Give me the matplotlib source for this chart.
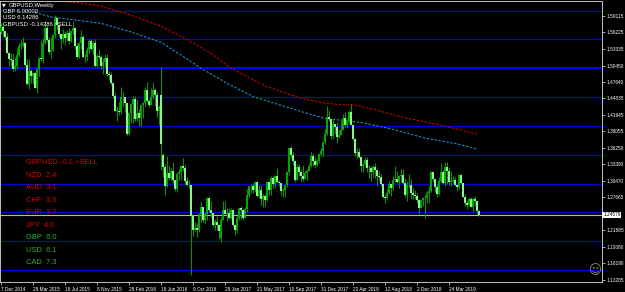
import matplotlib
matplotlib.use("Agg")
import matplotlib.pyplot as plt
import matplotlib.transforms as mtransforms

plt.rcParams['font.family'] = ['Liberation Sans', 'DejaVu Sans']

# ---------------- data (weekly GBPUSD, week index 0 = 7 Dec 2014) ----------------
week_open = [
 1.5630,1.5715,1.5640,1.5540,1.5270,1.5160,1.5150,1.4995,1.5040,1.5235,
 1.5390,1.5395,1.5435,1.5050,1.4725,1.4945,1.4860,1.4915,1.4655,1.4980,
 1.5180,1.5165,1.5440,1.5705,1.5490,1.5285,1.5310,1.5575,1.5880,1.5745,
 1.5595,1.5505,1.5595,1.5525,1.5615,1.5470,1.5645,1.5700,1.5385,1.5195,
 1.5435,1.5535,1.5195,1.5190,1.5310,1.5465,1.5330,1.5430,1.5045,1.5215,
 1.5190,1.5035,1.5115,1.5180,1.4895,1.4885,1.4740,1.4525,1.4265,1.4265,
 1.4245,1.4500,1.4500,1.4400,1.3860,1.4225,1.4385,1.4470,1.4125,1.4225,
 1.4145,1.4355,1.4400,1.4615,1.4440,1.4365,1.4495,1.4620,1.4530,1.4255,
 1.4540,1.3500,1.3280,1.2950,1.3180,1.3105,1.3225,1.3065,1.2910,1.3160,
 1.3200,1.3305,1.3265,1.3050,1.2970,1.2975,1.2430,1.2190,1.2230,1.2190,
 1.2480,1.2590,1.2375,1.2475,1.2745,1.2550,1.2485,1.2285,1.2340,1.2280,
 1.2060,1.2370,1.2550,1.2475,1.2495,1.2410,1.2545,1.2290,1.2190,1.2400,
 1.2575,1.2545,1.2410,1.2560,1.2810,1.2950,1.2965,1.2885,1.3035,1.2790,
 1.2890,1.2740,1.2780,1.2715,1.3025,1.2885,1.3100,1.2995,1.3135,1.3035,
 1.3010,1.2875,1.2890,1.2975,1.3200,1.3615,1.3495,1.3400,1.3065,1.3285,
 1.3195,1.3135,1.3080,1.3190,1.3225,1.3310,1.3475,1.3385,1.3315,1.3395,
 1.3510,1.3565,1.3720,1.3860,1.4150,1.4120,1.3820,1.4025,1.3975,1.3810,
 1.3850,1.3930,1.4140,1.4015,1.4090,1.4245,1.4020,1.3770,1.3530,1.3545,
 1.3465,1.3305,1.3345,1.3415,1.3265,1.3275,1.3205,1.3280,1.3235,1.3140,
 1.3110,1.2995,1.2765,1.2745,1.2840,1.2995,1.2925,1.3070,1.3075,1.3030,
 1.3130,1.3155,1.3010,1.2805,1.2980,1.2975,1.2830,1.2800,1.2785,1.2720,
 1.2585,1.2715,1.2750,1.2745,1.2840,1.2880,1.3195,1.3075,1.2945,1.2820,
 1.3045,1.3195,1.3005,1.3285,1.3210,1.3030,1.3045,1.3070,1.2970,1.2940,
 1.3150,1.3005,1.2770,1.2660,1.2625,1.2735,1.2595,1.2740,1.2700,1.2525]
week_high = [
 1.5785,1.5785,1.5645,1.5620,1.5290,1.5270,1.5270,1.5200,1.5350,1.5435,
 1.5485,1.5550,1.5450,1.5165,1.5165,1.4990,1.4925,1.4930,1.5000,1.5200,
 1.5495,1.5525,1.5815,1.5745,1.5535,1.5550,1.5600,1.5930,1.5890,1.5760,
 1.5600,1.5675,1.5645,1.5670,1.5690,1.5670,1.5820,1.5720,1.5420,1.5460,
 1.5660,1.5575,1.5240,1.5375,1.5510,1.5510,1.5470,1.5500,1.5245,1.5330,
 1.5230,1.5175,1.5240,1.5240,1.4955,1.4930,1.4745,1.4575,1.4350,1.4415,
 1.4670,1.4590,1.4505,1.4405,1.4235,1.4390,1.4515,1.4515,1.4460,1.4295,
 1.4360,1.4420,1.4670,1.4770,1.4470,1.4665,1.4770,1.4660,1.4590,1.4355,
 1.5020,1.3535,1.3340,1.3480,1.3300,1.3265,1.3375,1.3070,1.3185,1.3255,
 1.3325,1.3445,1.3330,1.3120,1.3055,1.2980,1.2460,1.2335,1.2325,1.2485,
 1.2675,1.2600,1.2515,1.2775,1.2775,1.2705,1.2490,1.2390,1.2430,1.2285,
 1.2415,1.2705,1.2705,1.2580,1.2580,1.2570,1.2555,1.2300,1.2430,1.2580,
 1.2615,1.2550,1.2590,1.2905,1.2965,1.2990,1.2990,1.3050,1.3045,1.2975,
 1.2975,1.2815,1.2815,1.3030,1.3030,1.3125,1.3125,1.3155,1.3270,1.3070,
 1.3015,1.2920,1.2980,1.3225,1.3620,1.3655,1.3550,1.3405,1.3340,1.3335,
 1.3260,1.3320,1.3225,1.3250,1.3365,1.3550,1.3535,1.3460,1.3420,1.3515,
 1.3610,1.3745,1.3945,1.4345,1.4285,1.4125,1.4145,1.4035,1.4065,1.3935,
 1.4090,1.4215,1.4245,1.4125,1.4275,1.4375,1.4030,1.3795,1.3615,1.3615,
 1.3475,1.3350,1.3470,1.3470,1.3315,1.3310,1.3325,1.3365,1.3255,1.3215,
 1.3175,1.3005,1.2805,1.2905,1.3045,1.3000,1.3140,1.3300,1.3215,1.3145,
 1.3260,1.3255,1.3100,1.3045,1.3175,1.3075,1.2925,1.2885,1.2840,1.2725,
 1.2705,1.2760,1.2800,1.2865,1.2965,1.3220,1.3215,1.3085,1.2985,1.3110,
 1.3350,1.3240,1.3380,1.3380,1.3285,1.3210,1.3130,1.3120,1.3000,1.3175,
 1.3175,1.3010,1.2815,1.2715,1.2765,1.2760,1.2765,1.2785,1.2715,1.2535]
week_low = [
 1.5590,1.5550,1.5485,1.5260,1.5035,1.5035,1.4950,1.4950,1.4990,1.5190,
 1.5330,1.5375,1.5040,1.4715,1.4635,1.4745,1.4720,1.4650,1.4565,1.4870,
 1.5120,1.5090,1.5420,1.5460,1.5250,1.5170,1.5300,1.5530,1.5665,1.5540,
 1.5330,1.5445,1.5400,1.5465,1.5415,1.5450,1.5600,1.5330,1.5160,1.5170,
 1.5330,1.5190,1.5105,1.5120,1.5250,1.5320,1.5245,1.5025,1.5025,1.5165,
 1.4985,1.4895,1.5020,1.4860,1.4800,1.4715,1.4490,1.4255,1.4080,1.4195,
 1.4215,1.4350,1.4245,1.3835,1.3835,1.4055,1.4055,1.4085,1.4080,1.4005,
 1.4000,1.4140,1.4340,1.4415,1.4330,1.4355,1.4470,1.4350,1.4160,1.4015,
 1.3230,1.3120,1.2795,1.2935,1.3055,1.3060,1.3015,1.2865,1.2850,1.3060,
 1.3060,1.3225,1.3000,1.2950,1.2915,1.1410,1.2085,1.2175,1.2080,1.2155,
 1.2340,1.2335,1.2300,1.2370,1.2510,1.2420,1.2250,1.2200,1.2200,1.2035,
 1.1985,1.2365,1.2465,1.2345,1.2385,1.2385,1.2250,1.2110,1.2135,1.2375,
 1.2380,1.2365,1.2405,1.2515,1.2775,1.2840,1.2845,1.2860,1.2775,1.2765,
 1.2635,1.2590,1.2590,1.2700,1.2810,1.2810,1.2930,1.2930,1.3020,1.2955,
 1.2810,1.2775,1.2775,1.2935,1.3155,1.3450,1.3320,1.3025,1.3060,1.3125,
 1.3025,1.3040,1.3075,1.3065,1.3215,1.3290,1.3300,1.3275,1.3300,1.3365,
 1.3480,1.3460,1.3680,1.3845,1.4090,1.3765,1.3765,1.3855,1.3710,1.3785,
 1.3835,1.3925,1.3985,1.3965,1.4055,1.4010,1.3760,1.3480,1.3450,1.3445,
 1.3205,1.3205,1.3310,1.3205,1.3100,1.3050,1.3120,1.3105,1.2955,1.3045,
 1.2960,1.2750,1.2660,1.2735,1.2820,1.2785,1.2890,1.3035,1.3005,1.2920,
 1.3030,1.3000,1.2775,1.2695,1.2920,1.2725,1.2725,1.2725,1.2660,1.2475,
 1.2580,1.2620,1.2395,1.2670,1.2670,1.2855,1.3020,1.2850,1.2770,1.2800,
 1.3010,1.2995,1.2960,1.3000,1.2975,1.2960,1.3005,1.2960,1.2865,1.2905,
 1.2995,1.2765,1.2605,1.2560,1.2610,1.2590,1.2505,1.2605,1.2480,1.2440]
week_close = [
 1.5715,1.5640,1.5540,1.5270,1.5160,1.5150,1.4995,1.5040,1.5235,1.5390,
 1.5395,1.5435,1.5050,1.4725,1.4945,1.4860,1.4915,1.4655,1.4980,1.5180,
 1.5165,1.5440,1.5705,1.5490,1.5285,1.5310,1.5575,1.5880,1.5745,1.5595,
 1.5505,1.5595,1.5525,1.5615,1.5470,1.5645,1.5700,1.5385,1.5195,1.5435,
 1.5535,1.5195,1.5190,1.5310,1.5465,1.5330,1.5430,1.5045,1.5215,1.5190,
 1.5035,1.5115,1.5180,1.4895,1.4885,1.4740,1.4525,1.4265,1.4265,1.4245,
 1.4500,1.4500,1.4400,1.3860,1.4225,1.4385,1.4470,1.4125,1.4225,1.4145,
 1.4355,1.4400,1.4615,1.4440,1.4365,1.4495,1.4620,1.4530,1.4255,1.4325,
 1.3680,1.3280,1.2950,1.3180,1.3105,1.3225,1.3065,1.2910,1.3160,1.3200,
 1.3305,1.3265,1.3050,1.2970,1.2975,1.2430,1.2190,1.2230,1.2190,1.2480,
 1.2590,1.2375,1.2475,1.2745,1.2550,1.2485,1.2285,1.2340,1.2280,1.2175,
 1.2370,1.2550,1.2475,1.2495,1.2410,1.2545,1.2290,1.2190,1.2400,1.2575,
 1.2545,1.2410,1.2560,1.2810,1.2950,1.2965,1.2885,1.3035,1.2790,1.2890,
 1.2740,1.2780,1.2715,1.3025,1.2885,1.3100,1.2995,1.3135,1.3035,1.3010,
 1.2875,1.2890,1.2975,1.3200,1.3615,1.3495,1.3400,1.3065,1.3285,1.3195,
 1.3135,1.3080,1.3190,1.3225,1.3310,1.3475,1.3385,1.3315,1.3395,1.3510,
 1.3565,1.3720,1.3860,1.4150,1.4120,1.3820,1.4025,1.3975,1.3810,1.3850,
 1.3930,1.4140,1.4015,1.4090,1.4245,1.4020,1.3770,1.3530,1.3545,1.3465,
 1.3305,1.3345,1.3415,1.3265,1.3275,1.3205,1.3280,1.3235,1.3140,1.3110,
 1.2995,1.2765,1.2745,1.2840,1.2995,1.2925,1.3070,1.3075,1.3030,1.3130,
 1.3155,1.3010,1.2805,1.2980,1.2975,1.2830,1.2800,1.2785,1.2720,1.2585,
 1.2715,1.2750,1.2745,1.2840,1.2880,1.3195,1.3075,1.2945,1.2820,1.3045,
 1.3195,1.3005,1.3285,1.3210,1.3030,1.3045,1.3070,1.2970,1.2940,1.3150,
 1.3005,1.2770,1.2660,1.2625,1.2735,1.2595,1.2740,1.2700,1.2525,1.2458]

# moving averages (sampled week index -> value)
ma_red_weeks = [30, 40, 50, 65, 80, 92, 105, 115, 125, 133, 150, 163, 170, 176, 186, 202, 219, 238]
ma_red_vals = [1.616, 1.613, 1.608, 1.592, 1.573, 1.552, 1.526, 1.500, 1.482, 1.468,
               1.448, 1.439, 1.437, 1.437, 1.429, 1.414, 1.402, 1.386]
ma_blue_weeks = [17, 25, 50, 65, 80, 90, 100, 113, 126, 150, 163, 170, 180, 195, 212, 228, 238]
ma_blue_vals = [1.597, 1.589, 1.578, 1.563, 1.545, 1.523, 1.500, 1.474, 1.451, 1.425,
                1.412, 1.410, 1.406, 1.395, 1.379, 1.369, 1.360]

levels = [1.15, 1.20, 1.25, 1.30, 1.35, 1.40, 1.45, 1.50, 1.55, 1.60]
current_price = 1.24579

price_ticks = [1.59115, 1.56225, 1.53335, 1.50450, 1.47640, 1.44835, 1.41945, 1.39055,
               1.36250, 1.33390, 1.30470, 1.27665, 1.21885, 1.19080, 1.16190, 1.13285]
date_ticks = [0, 16, 32, 48, 64, 80, 96, 112, 128, 144, 160, 176, 192, 208, 224]
date_labels = ["7 Dec 2014", "29 Mar 2015", "19 Jul 2015", "8 Nov 2015", "28 Feb 2016",
               "19 Jun 2016", "9 Oct 2016", "29 Jan 2017", "21 May 2017", "10 Sep 2017",
               "31 Dec 2017", "22 Apr 2018", "12 Aug 2018", "2 Dec 2018", "24 Mar 2019"]

header_lines = ["GBPUSD,Weekly", "GBP 6.00000", "USD 6.14286", "GBPUSD -0.14286 >SELL"]
strength_labels = ["GBPUSD -0.1 >SELL", "NZD  2.4", "AUD  3.1", "CHF  3.3", "EUR  3.7",
                   "JPY  4.0", "GBP  6.0", "USD  6.1", "CAD  7.3"]
strength_colors = ["#e00000"] * 6 + ["#2fb42f"] * 3

# ---------------- figure ----------------
W, H = 625, 292
fig = plt.figure(figsize=(W / 100, H / 100), dpi=100)
fig.patch.set_facecolor("black")
ax = fig.add_axes([0 / W, 1 - 282 / H, 602 / W, 281 / H])
ax.set_facecolor("black")

ax.set_xlim(-0.5, 300.5)
ax.set_ylim(1.12939, 1.61664)

# level lines
for lv in levels:
    if abs(lv - 1.50) < 1e-9:
        ax.axhline(lv, color="#0000ff", lw=1.5, zorder=1)
    else:
        ax.axhline(lv, color="#0000d8", lw=0.9, zorder=1)
ax.axhline(current_price, color="#b8b8c8", lw=0.8, zorder=1)

# candles
n = len(week_close)
xs = list(range(n))
ax.vlines(xs, week_low, week_high, colors="#009a00", lw=0.75, zorder=3)
bull_x, bull_b, bull_h, bear_x, bear_b, bear_h = [], [], [], [], [], []
for i in xs:
    o, c = week_open[i], week_close[i]
    if c >= o:
        bull_x.append(i); bull_b.append(o); bull_h.append(max(c - o, 0.0004))
    else:
        bear_x.append(i); bear_b.append(c); bear_h.append(o - c)
ax.bar(bull_x, bull_h, bottom=bull_b, width=0.85, color="#00a800", lw=0, zorder=4)
ax.bar(bear_x, bear_h, bottom=bear_b, width=0.85, color="#8cf58c", lw=0, zorder=4)

# moving averages
ax.plot(ma_red_weeks, ma_red_vals, color="#c80000", lw=0.8, ls=(0, (2.2, 1.4)), zorder=2)
ax.plot(ma_blue_weeks, ma_blue_vals, color="#1e8cc8", lw=0.8, ls=(0, (2.2, 1.4)), zorder=2)

# axes styling
for s in ax.spines.values():
    s.set_color("#c0c0c0")
    s.set_linewidth(0.7)
ax.yaxis.tick_right()
ax.set_yticks(price_ticks)
ax.set_yticklabels([f"{v:.5f}" for v in price_ticks])
ax.tick_params(axis="y", colors="#c0c0c0", labelcolor="white", length=2, width=0.6,
               labelsize=3.4, pad=1.0)
ax.set_xticks(date_ticks)
ax.set_xticklabels(date_labels)
ax.tick_params(axis="x", colors="#c0c0c0", labelcolor="white", length=2.5, width=0.6,
               labelsize=3.4, pad=0.8)
for lab in ax.get_xticklabels():
    lab.set_horizontalalignment("left")

# current price box
trans = mtransforms.blended_transform_factory(ax.transAxes, ax.transData)
ax.text(1.002, current_price, f"{current_price:.5f}", transform=trans, ha="left", va="center",
        fontsize=3.4, color="black",
        bbox=dict(boxstyle="square,pad=0.15", fc="white", ec="white", lw=0), clip_on=False, zorder=10)

# header text
def px(x, y):
    return x / W, 1 - y / H

fig.text(*px(2, 5), "\u25BC", fontsize=3.5, color="white", va="center", ha="left",
         family=["DejaVu Sans"])
fig.text(*px(9, 5), header_lines[0], fontsize=4.2, color="white", va="center", ha="left")
for k, t in enumerate(header_lines[1:]):
    fig.text(*px(3, 11.7 + 6.2 * k), t, fontsize=4.2, color="white", va="center", ha="left")

# currency strength list
for k, (t, c) in enumerate(zip(strength_labels, strength_colors)):
    fig.text(*px(26.5, 162.7 + 12.5 * k), t, fontsize=5.4, color=c, va="center", ha="left")

# smiley
fig.text(*px(595, 270.5), "\u263A", fontsize=9, color="#8c8c8c", va="center", ha="center",
         family=["DejaVu Sans"])

fig.savefig("out.png", dpi=100, facecolor="black")
